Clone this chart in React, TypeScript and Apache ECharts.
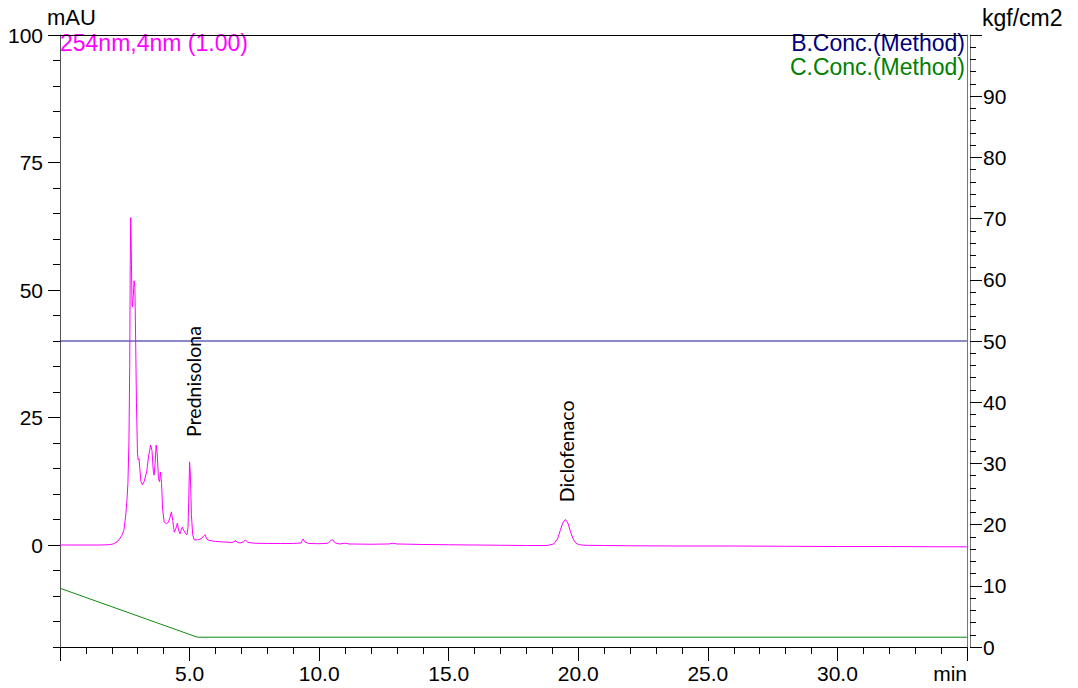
import React, { useEffect, useRef } from 'react';
import * as echarts from 'echarts';

// Chromatogram (254nm,4nm) — time in minutes, absorbance in mAU
const chromTime = [
  0, 0.5, 1.0, 1.5, 1.9, 2.05, 2.2, 2.3, 2.4, 2.47, 2.53, 2.58, 2.62, 2.66, 2.69, 2.71, 2.73, 2.75, 2.78, 2.8,
  2.83, 2.86, 2.89, 2.92, 2.95, 2.99, 3.02, 3.05, 3.08, 3.12, 3.18, 3.25, 3.35, 3.42, 3.5, 3.55, 3.6, 3.63, 3.67, 3.71,
  3.75, 3.8, 3.84, 3.88, 3.92, 3.96, 4.02, 4.1, 4.18, 4.25, 4.3, 4.35, 4.41, 4.47, 4.53, 4.58, 4.63, 4.68, 4.72, 4.78,
  4.85, 4.9, 4.94, 4.97, 5.0, 5.03, 5.07, 5.12, 5.18, 5.3, 5.45, 5.55, 5.6, 5.66, 5.75, 6.0, 6.3, 6.6, 6.72, 6.77,
  6.85, 6.95, 7.08, 7.15, 7.25, 7.5, 8.0, 8.5, 9.0, 9.3, 9.38, 9.45, 9.6, 10.0, 10.35, 10.45, 10.52, 10.62, 10.8, 11.0,
  11.15, 12.0, 12.7, 12.85, 13.0, 14.0, 15.0, 16.0, 17.0, 18.0, 18.8, 19.05, 19.2, 19.3, 19.4, 19.5, 19.6, 19.7, 19.8, 19.9,
  20.0, 20.2, 21.0, 22.0, 24.0, 26.0, 28.0, 30.0, 32.0, 34.0, 35.0,
];
const chromMAU = [
  0, 0, 0, 0, 0.05, 0.2, 0.6, 1.2, 2.0, 3.0, 5.5, 8.5, 12, 20, 35, 55, 64.2, 58, 47, 46.7,
  49, 51.8, 50.5, 40, 28, 18, 16.7, 16.9, 15, 12.5, 11.8, 12.5, 14.5, 17.5, 19.6, 18.5, 14.5, 13.7, 16, 19.6,
  18, 13, 12.4, 14.3, 12, 7, 4.5, 4.2, 4.4, 5.5, 6.5, 4.8, 2.5, 3.2, 4.3, 2.8, 2.2, 3.0, 3.5, 2.8,
  2.2, 2.0, 3.5, 9, 16.3, 14, 6, 2, 1.0, 1.0, 1.2, 1.8, 2.0, 1.2, 0.9, 0.7, 0.6, 0.5, 0.6, 0.9,
  0.5, 0.4, 0.6, 1.0, 0.5, 0.35, 0.3, 0.3, 0.3, 0.4, 1.2, 0.6, 0.3, 0.25, 0.35, 0.9, 1.0, 0.4, 0.2, 0.35,
  0.2, 0.15, 0.2, 0.35, 0.2, 0.1, 0.05, 0, -0.05, -0.1, -0.1, 0.2, 1.2, 2.8, 4.3, 5.0, 4.3, 2.6, 1.2, 0.4,
  0.1, -0.05, -0.1, -0.15, -0.2, -0.2, -0.25, -0.3, -0.3, -0.35, -0.35,
];

// Method gradient/concentration traces (right axis)
const bConcTime = [0, 35];
const bConcValue = [50, 50];
const cConcTime = [0, 5.3, 35];
const cConcValue = [9.6, 1.6, 1.6];

// Peak annotations
const peakNames = ['Prednisolona', 'Diclofenaco'];
const peakLabelTime = [5.15, 19.54];
const peakLabelMAU = [21.2, 8.4];

const FONT = '"Liberation Sans", Arial, sans-serif';

export default function App() {
  const ref = useRef<HTMLDivElement>(null);

  useEffect(() => {
    const chart = echarts.init(ref.current!, null, { renderer: 'svg' });

    const chromData = chromTime.map((t, i) => [t, chromMAU[i]]);
    const bData = bConcTime.map((t, i) => [t, bConcValue[i]]);
    const cData = cConcTime.map((t, i) => [t, cConcValue[i]]);
    const marks = peakNames.map((n, i) => ({ name: n, coord: [peakLabelTime[i], peakLabelMAU[i]] }));

    const tickLabel = { fontSize: 21, color: '#000', fontFamily: FONT };
    const titleText = (text: string, x: number, y: number, fill: string, align: string, size = 23) => ({
      type: 'text', x, y,
      style: { text, fontSize: size, fontFamily: FONT, fill, align, verticalAlign: 'middle' },
    });

    chart.setOption({
      animation: false,
      backgroundColor: '#fff',
      grid: { left: 60, right: 111, top: 35, bottom: 41, show: false },
      xAxis: [
        {
          type: 'value', min: 0, max: 35, interval: 5, position: 'bottom',
          axisLine: { show: true, onZero: false, lineStyle: { color: '#000', width: 1 } },
          axisTick: { show: true, inside: false, length: 14, lineStyle: { color: '#000' } },
          minorTick: { show: true, splitNumber: 5, length: 7, lineStyle: { color: '#000' } },
          splitLine: { show: false },
          axisLabel: {
            ...tickLabel, margin: 16, showMinLabel: false, alignMaxLabel: 'right',
            formatter: (v: number) => (v === 35 ? 'min' : v.toFixed(1)),
          },
        },
        {
          type: 'value', min: 0, max: 35, position: 'top',
          axisLine: { show: true, onZero: false, lineStyle: { color: '#000', width: 1 } },
          axisTick: { show: false }, axisLabel: { show: false }, splitLine: { show: false },
        },
      ],
      yAxis: [
        {
          type: 'value', min: -20, max: 100, interval: 5, position: 'left',
          axisLine: { show: true, onZero: false, lineStyle: { color: '#555' } },
          axisTick: { show: true, length: 12, customValues: [0, 25, 50, 75, 100], lineStyle: { color: '#000' } },
          axisLabel: {
            ...tickLabel, margin: 17,
            formatter: (v: number) => (v >= 0 && v % 25 === 0 ? String(v) : ''),
          },
          splitLine: { show: false },
        },
        {
          type: 'value', min: -20, max: 100, interval: 5, position: 'left', offset: 0,
          axisLine: { show: false },
          axisTick: { show: true, length: 7, lineStyle: { color: '#000' } },
          axisLabel: { show: false }, splitLine: { show: false },
        },
        {
          type: 'value', min: 0, max: 100, position: 'right', offset: 0,
          axisLine: { show: true, onZero: false, lineStyle: { color: '#777' } },
          axisTick: { show: false }, axisLabel: { show: false }, splitLine: { show: false },
        },
        {
          type: 'value', min: 0, max: 100, interval: 10, position: 'right', offset: 3,
          axisLine: { show: true, onZero: false, lineStyle: { color: '#777' } },
          axisTick: { show: true, length: 12, lineStyle: { color: '#000' } },
          minorTick: { show: true, splitNumber: 5, length: 6, lineStyle: { color: '#000' } },
          axisLabel: { ...tickLabel, margin: 13, showMaxLabel: false },
          splitLine: { show: false },
        },
      ],
      series: [
        {
          name: 'B.Conc.(Method)', type: 'line', xAxisIndex: 0, yAxisIndex: 3, data: bData,
          symbol: 'none', lineStyle: { color: '#15158f', width: 1 }, silent: true,
        },
        {
          name: 'C.Conc.(Method)', type: 'line', xAxisIndex: 0, yAxisIndex: 3, data: cData,
          symbol: 'none', lineStyle: { color: '#108a10', width: 1 }, silent: true,
        },
        {
          name: '254nm,4nm (1.00)', type: 'line', xAxisIndex: 0, yAxisIndex: 0, data: chromData,
          symbol: 'none', lineStyle: { color: '#ff00ff', width: 1 }, silent: true,
          markPoint: {
            symbol: 'rect', symbolSize: 1, itemStyle: { color: 'rgba(0,0,0,0)' },
            label: {
              show: true, position: 'inside', rotate: 90, align: 'left', verticalAlign: 'middle',
              formatter: '{b}', color: '#000', fontSize: 19.5, fontFamily: 'Lato, "Open Sans", sans-serif',
            },
            data: marks,
          },
        },
      ],
      graphic: [
        titleText('mAU', 47, 17, '#000', 'left', 22),
        titleText('kgf/cm2', 982, 18, '#000', 'left'),
        titleText('254nm,4nm (1.00)', 60, 43, '#ff00ff', 'left'),
        titleText('B.Conc.(Method)', 965, 43, '#000080', 'right'),
        titleText('C.Conc.(Method)', 965, 67, '#008000', 'right'),
      ],
    });

    return () => chart.dispose();
  }, []);

  return (
    <div
      ref={ref}
      style={{ position: 'fixed', left: 0, top: 0, width: 1078, height: 688, background: '#fff' }}
    />
  );
}
